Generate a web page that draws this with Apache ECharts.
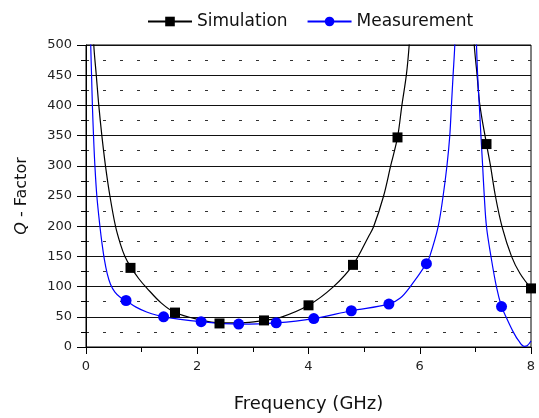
<!DOCTYPE html>
<html>
<head>
<meta charset="utf-8">
<script src="https://cdn.jsdelivr.net/npm/echarts@6/dist/echarts.min.js"></script>
<style>
  html, body { margin: 0; padding: 0; background: #fff; }
  #chart { width: 539px; height: 418px; }
</style>
</head>
<body>
<div id="chart"></div>
<script>
// fitted curves as [GHz, Q] (two branches each, split at the resonance)
const simCurveLow = [[0.12, 560], [0.14, 500], [0.185, 450], [0.23, 400], [0.285, 350], [0.35, 300],
  [0.43, 250], [0.53, 200], [0.62, 170], [0.7, 150], [0.8, 133], [0.95, 113], [1.09, 98], [1.35, 73],
  [1.6, 57], [2.0, 46], [2.4, 40], [2.8, 40], [3.2, 44], [3.5, 49], [4.0, 69], [4.45, 100], [4.8, 136],
  [5.08, 183], [5.17, 199], [5.35, 250], [5.48, 301], [5.6, 347], [5.68, 401], [5.76, 451], [5.81, 500],
  [5.84, 550]]
const simCurveHigh = [[6.95, 560], [6.98, 500], [7.03, 451], [7.08, 401], [7.2, 336], [7.27, 301],
  [7.36, 250], [7.48, 199], [7.65, 150], [7.8, 122], [8.0, 97]]

const measCurveLow = [[0.075, 560], [0.085, 500], [0.1, 450], [0.115, 400], [0.135, 350], [0.16, 300],
  [0.195, 250], [0.25, 200], [0.29, 170], [0.33, 145], [0.38, 122], [0.44, 104], [0.52, 91], [0.62, 82],
  [0.72, 77], [0.9, 66], [1.09, 58], [1.395, 50], [2.07, 42], [2.745, 38], [3.42, 40], [4.095, 47],
  [4.77, 60], [5.445, 71], [5.65, 81], [5.83, 100], [6.12, 138], [6.18, 150], [6.33, 199], [6.42, 250],
  [6.49, 301], [6.54, 350], [6.57, 401], [6.6, 451], [6.63, 500], [6.65, 560]]
const measCurveHigh = [[7.0, 560], [7.02, 500], [7.04, 451], [7.07, 401], [7.1, 350], [7.13, 301],
  [7.16, 250], [7.2, 199], [7.28, 150], [7.38, 99], [7.47, 67], [7.56, 48], [7.68, 25], [7.78, 10],
  [7.88, 1], [7.93, 2], [8.0, 10]]

// markers
const simFreq = [0.8, 1.6, 2.4, 3.2, 4.0, 4.8, 5.6, 7.2, 8.0]
const simQ = [131, 57, 39, 44, 69, 136, 347, 336, 97]
const measFreq = [0.72, 1.395, 2.07, 2.745, 3.42, 4.095, 4.77, 5.445, 6.12, 7.47]
const measQ = [77, 50, 42, 38, 40, 47, 60, 71, 138, 67]

const font = 'DejaVu Sans'
const blue = '#0000ff'

function pairs(xs, ys) {
  return xs.map((x, i) => [x, ys[i]])
}

const chart = echarts.init(document.getElementById('chart'))

chart.setOption({
  animation: false,
  backgroundColor: '#fff',
  legend: {
    data: ['Simulation', 'Measurement'],
    left: 142,
    top: 8,
    itemWidth: 44,
    itemHeight: 12,
    itemGap: 19,
    textStyle: { fontFamily: font, fontSize: 17, color: '#111' }
  },
  grid: {
    left: 86, right: 8, top: 45, bottom: 65,
    show: true, borderColor: '#000', borderWidth: 1
  },
  xAxis: {
    type: 'value',
    min: 0, max: 8, interval: 2,
    name: 'Frequency (GHz)',
    nameLocation: 'middle',
    nameGap: 48,
    nameTextStyle: { fontFamily: font, fontSize: 18, color: '#111' },
    axisLine: { lineStyle: { color: '#000', width: 1 } },
    axisTick: { inside: false, length: 7, lineStyle: { color: '#000' } },
    minorTick: { show: true, splitNumber: 2, length: 5, lineStyle: { color: '#000' } },
    axisLabel: { fontFamily: font, fontSize: 13, color: '#222', margin: 13 },
    splitLine: { show: false }
  },
  yAxis: {
    type: 'value',
    min: 0, max: 500, interval: 50,
    name: '{q|Q} - Factor',
    nameLocation: 'middle',
    nameGap: 56,
    nameTextStyle: {
      fontFamily: font, fontSize: 16, color: '#111',
      rich: { q: { fontFamily: font, fontSize: 16, fontStyle: 'italic', color: '#111' } }
    },
    axisLine: { show: true, lineStyle: { color: '#000', width: 1 } },
    axisTick: { show: true, inside: false, length: 9, lineStyle: { color: '#000' } },
    minorTick: { show: true, splitNumber: 2, length: 5, lineStyle: { color: '#000' } },
    axisLabel: { fontFamily: font, fontSize: 13, color: '#222', margin: 14 },
    splitLine: { show: true, lineStyle: { color: '#111', width: 1 } },
    minorSplitLine: { show: true, lineStyle: { color: '#333', width: 1, type: [3, 14] } }
  },
  series: [
    {
      name: 'Simulation',
      type: 'line',
      data: simCurveLow.concat([[6.4, '-']], simCurveHigh),
      smooth: 0.35,
      symbol: 'rect',
      symbolSize: 10,
      showSymbol: false,
      lineStyle: { color: '#000', width: 1.2 },
      itemStyle: { color: '#000' },
      z: 3
    },
    {
      name: 'Measurement',
      type: 'line',
      data: measCurveLow.concat([[6.8, '-']], measCurveHigh),
      smooth: 0.35,
      symbol: 'circle',
      symbolSize: 10,
      showSymbol: false,
      lineStyle: { color: blue, width: 1.2 },
      itemStyle: { color: blue },
      z: 3
    },
    {
      name: 'Simulation',
      type: 'scatter',
      data: pairs(simFreq, simQ),
      symbol: 'rect',
      symbolSize: 10,
      itemStyle: { color: '#000', opacity: 1 },
      z: 4
    },
    {
      name: 'Measurement',
      type: 'scatter',
      data: pairs(measFreq, measQ),
      symbol: 'circle',
      symbolSize: 11,
      itemStyle: { color: blue, opacity: 1 },
      z: 4
    }
  ]
})
</script>
</body>
</html>
